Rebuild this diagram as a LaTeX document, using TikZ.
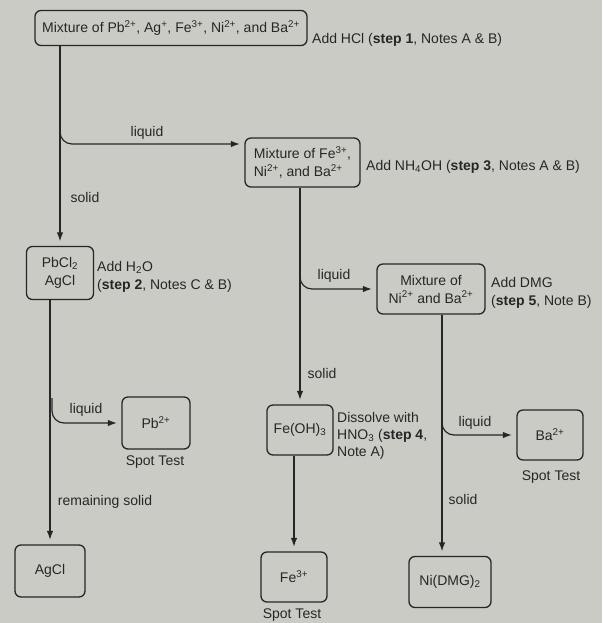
\documentclass[tikz,border=0pt]{standalone}
\usepackage{fontspec}
\setmainfont{Liberation Sans}
\usetikzlibrary{arrows.meta}
\definecolor{paper}{RGB}{203,203,198}
\definecolor{ink}{RGB}{38,38,38}
\begin{document}
\begin{tikzpicture}[x=1pt,y=-1pt,
  every node/.style={text=ink, font=\fontsize{14}{18}\selectfont},
  box/.style={draw=ink, line width=1.3pt, rounded corners=6pt, inner sep=2pt, align=center},
  lbl/.style={inner sep=0pt, align=left},
  arr/.style={draw=ink, line width=1.2pt, -{Latex[length=9pt,width=6.5pt]}, shorten >=4.5pt},
  branch/.style={arr, rounded corners=12pt}]
\fill[paper] (0,0) rectangle (602,623);
\useasboundingbox (0,0) rectangle (602,623);

% boxes
\node[box, minimum width=272pt, minimum height=35pt] (top) at (171,28)
  {Mixture of Pb\textsuperscript{2+}, Ag\textsuperscript{+}, Fe\textsuperscript{3+}, Ni\textsuperscript{2+}, and Ba\textsuperscript{2+}};
\node[box, minimum width=115pt, minimum height=49pt, align=left] (febox) at (302.5,162.5)
  {Mixture of Fe\textsuperscript{3+},\\Ni\textsuperscript{2+}, and Ba\textsuperscript{2+}};
\node[box, minimum width=67pt, minimum height=53pt] (pb) at (60,273) {PbCl\textsubscript{2}\\AgCl};
\node[box, minimum width=108pt, minimum height=50pt] (nibox) at (431,289)
  {Mixture of\\Ni\textsuperscript{2+} and Ba\textsuperscript{2+}};
\node[box, minimum width=68pt, minimum height=52pt] (pbion) at (156,423) {Pb\textsuperscript{2+}};
\node[box, minimum width=66pt, minimum height=50pt] (feoh) at (300,430) {Fe(OH)\textsubscript{3}};
\node[box, minimum width=66pt, minimum height=50pt] (ba) at (550,435) {Ba\textsuperscript{2+}};
\node[box, minimum width=70pt, minimum height=52pt] (agcl) at (50,571) {AgCl};
\node[box, minimum width=66pt, minimum height=50pt] (fe3) at (294,577) {Fe\textsuperscript{3+}};
\node[box, minimum width=82pt, minimum height=51pt] (nidmg) at (450,582) {Ni(DMG)\textsubscript{2}};

% labels
\node[lbl, anchor=west] (hcl) at (312,40) {Add HCl (\textbf{step 1}, Notes A \& B)};
\node[lbl, anchor=west] (nh4oh) at (366,167) {Add NH\textsubscript{4}OH (\textbf{step 3}, Notes A \& B)};
\node[lbl, anchor=west] (h2o) at (97,277) {Add H\textsubscript{2}O\\(\textbf{step 2}, Notes C \& B)};
\node[lbl, anchor=west] (dmg) at (491,293) {Add DMG\\(\textbf{step 5}, Note B)};
\node[lbl, anchor=west, font=\fontsize{14}{17}\selectfont] (dis) at (337,436) {Dissolve with\\HNO\textsubscript{3} (\textbf{step 4},\\Note A)};
\node[lbl] (liq1) at (147,133) {liquid};
\node[lbl] (sol1) at (85,197) {solid};
\node[lbl] (liq2) at (334,276) {liquid};
\node[lbl] (sol2) at (322,373) {solid};
\node[lbl] (liq3) at (86,410) {liquid};
\node[lbl] (st1) at (155,462) {Spot Test};
\node[lbl] (rem) at (105,502) {remaining solid};
\node[lbl] (liq4) at (475,423) {liquid};
\node[lbl] (st2) at (551,477) {Spot Test};
\node[lbl] (sol3) at (463,499) {solid};
\node[lbl] (st3) at (292,615) {Spot Test};

% helper coordinates
\coordinate (b1) at (60,118);
\coordinate (y1) at (0,144);
\coordinate (b2) at (300,262);
\coordinate (b3) at (52,398);
\coordinate (nx) at (442,0);
\coordinate (b4) at (442,410);

% connectors
\draw[arr] (top.south -| pb.north) -- (pb.north);
\draw[branch] (b1) |- (febox.west |- y1);
\draw[arr] (febox.south -| feoh.north) -- (feoh.north);
\draw[branch] (b2) |- (nibox.west);
\draw[arr] (pb.south -| agcl.north) -- (agcl.north);
\draw[branch] (b3) |- (pbion.west);
\draw[arr] (feoh.south -| fe3.north) -- (fe3.north);
\draw[arr] (nibox.south -| nx) -- (nidmg.north -| nx);
\draw[branch] (b4) |- (ba.west);
\end{tikzpicture}
\end{document}
